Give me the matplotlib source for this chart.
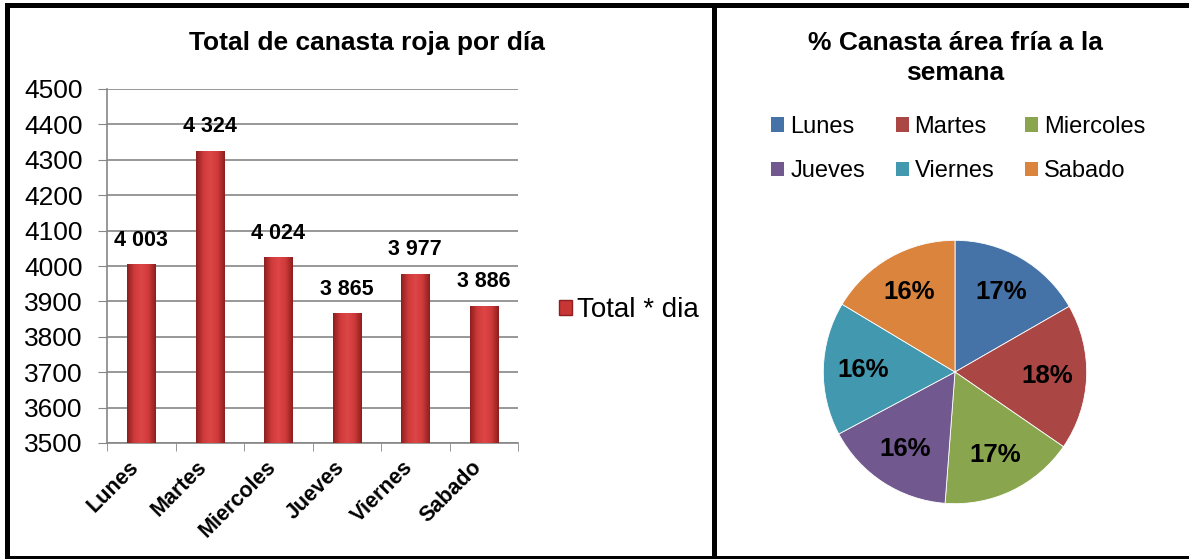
import numpy as np
import matplotlib
matplotlib.use('Agg')
import matplotlib.pyplot as plt
from matplotlib.colors import LinearSegmentedColormap
from matplotlib.lines import Line2D
from matplotlib.patches import Patch
from matplotlib.transforms import ScaledTranslation

plt.rcParams['font.family'] = ['Liberation Sans', 'DejaVu Sans']

dias = ['Lunes', 'Martes', 'Miercoles', 'Jueves', 'Viernes', 'Sabado']
totales = [4003, 4324, 4024, 3865, 3977, 3886]
etiquetas = ['4 003', '4 324', '4 024', '3 865', '3 977', '3 886']
# share of the week
pct_fria = [16.7, 17.9, 16.6, 16.0, 16.4, 16.4]
colores_pie = ['#4572A7', '#AA4643', '#89A54E', '#71588F', '#4198AF', '#DB843D']

W, H = 1189, 559
fig = plt.figure(figsize=(W / 100, H / 100), dpi=100)

# ---- bar chart
ymin, ymax = 3500, 4500
ax1 = fig.add_axes([107 / W, 1 - 443 / H, 411 / W, 354 / H])
x = np.arange(len(dias))
bars = ax1.bar(x, totales, width=0.41, color='#C83535', zorder=3)

# horizontal shading on every bar, dark edges, light centre
grad = LinearSegmentedColormap.from_list('rojo', ['#8E1F1F', '#CF3A3A', '#DE4646', '#CF3A3A', '#8E1F1F'])
g = np.linspace(0, 1, 64).reshape(1, -1)
for b in bars:
    x0 = b.get_x()
    ax1.imshow(g, cmap=grad, aspect='auto', zorder=4,
               extent=[x0, x0 + b.get_width(), ymin, b.get_height()])

for xi, v, t in zip(x, totales, etiquetas):
    ax1.annotate(t, (xi, v), xytext=(0, 10), textcoords='offset points',
                 ha='center', va='bottom', fontsize=15.5, fontweight='bold')

ax1.set_xlim(-0.5, 5.5)
ax1.set_ylim(ymin, ymax)
ax1.set_yticks(range(ymin, ymax + 1, 100))
ax1.tick_params(axis='y', labelsize=19, length=6.5, color='#868686', pad=11)
ax1.set_xticks(x)
ax1.set_xticklabels(dias, rotation=45, ha='right', rotation_mode='anchor',
                    fontsize=15.5, fontweight='bold')
ax1.tick_params(axis='x', which='major', length=0, pad=10)
shift = ScaledTranslation(-13 / 100, 0, fig.dpi_scale_trans)
for lab in ax1.get_xticklabels():
    lab.set_transform(lab.get_transform() + shift)
ax1.set_xticks(np.arange(-0.5, 6, 1), minor=True)
ax1.tick_params(axis='x', which='minor', length=6, color='#868686')
ax1.grid(axis='y', color='#868686', linewidth=1.2, zorder=0)
for s in ['top', 'right']:
    ax1.spines[s].set_visible(False)
for s in ['left', 'bottom']:
    ax1.spines[s].set_color('#868686')
    ax1.spines[s].set_linewidth(1.2)

fig.text(367 / W, 1 - 43 / H, 'Total de canasta roja por día', ha='center', va='center',
         fontsize=19, fontweight='bold')

fig.legend(handles=[Patch(facecolor='#C83535', edgecolor='#8E1F1F')], labels=['Total * dia'],
           loc='center left', bbox_to_anchor=(534 / W, 1 - 310 / H), frameon=False,
           fontsize=20, handlelength=0.45, handleheight=0.45, handletextpad=0.2)

# ---- pie chart
ax2 = fig.add_axes([(955 - 133) / W, 1 - (372 + 133) / H, 266 / W, 266 / H])
wedges, _, autotexts = ax2.pie(pct_fria, colors=colores_pie, startangle=90, counterclock=False,
                               autopct='%.0f%%', pctdistance=0.7,
                               wedgeprops=dict(edgecolor='white', linewidth=0.6),
                               textprops=dict(fontsize=18.5, fontweight='bold'))
ax2.set_xlim(-1.01, 1.01)
ax2.set_ylim(-1.01, 1.01)

fig.text(955 / W, 1 - 58 / H, '% Canasta área fría a la\nsemana', ha='center', va='center',
         fontsize=19, fontweight='bold', linespacing=1.28)

# legend fills by column, so reorder to read row by row
orden = [0, 3, 1, 4, 2, 5]
fig.legend(handles=[Patch(facecolor=colores_pie[i]) for i in orden],
           labels=[dias[i] for i in orden],
           loc='center left', bbox_to_anchor=(750 / W, 1 - 149 / H), ncol=3, frameon=False,
           fontsize=17, handlelength=0.55, handleheight=0.55, handletextpad=0.25,
           columnspacing=1.3, labelspacing=0.95)

# ---- panel borders
lw = 3.6
kw = dict(color='black', linewidth=lw, transform=fig.transFigure, solid_capstyle='projecting')
fig.add_artist(Line2D([6.5 / W, 6.5 / W], [1 - 4.5 / H, 1 - 557.5 / H], **kw))
fig.add_artist(Line2D([6.5 / W, 1], [1 - 4.5 / H, 1 - 4.5 / H], **kw))
fig.add_artist(Line2D([6.5 / W, 1], [1 - 557.5 / H, 1 - 557.5 / H], **kw))
fig.add_artist(Line2D([713.5 / W, 713.5 / W], [1 - 4.5 / H, 1 - 557.5 / H], **kw))

fig.savefig('out.png', dpi=100)
